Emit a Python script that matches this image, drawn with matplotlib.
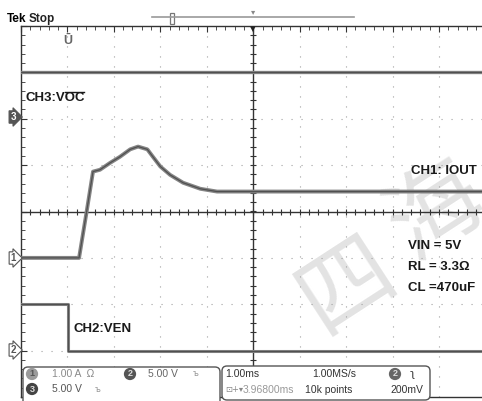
import numpy as np
import matplotlib
matplotlib.use("Agg")
import matplotlib.pyplot as plt
from matplotlib.patches import FancyBboxPatch
from matplotlib.ticker import MultipleLocator

# scope settings (1 ms/div horizontally, screen is 10 x 8 divisions)
t_div = 1.0            # ms per division
ch1_scale, ch1_pos = 1.0, -1.0   # A/div, marker position in div
ch2_scale, ch2_pos = 5.0, -3.0   # V/div
ch3_scale, ch3_pos = 5.0, 2.0    # V/div

# CH1: IOUT (A)
ch1_t = [-5.0, -3.75, -3.58, -3.45, -3.30, -3.08, -2.87, -2.65, -2.48, -2.28,
         -2.16, -2.00, -1.79, -1.51, -1.14, -0.78, -0.28, 5.0]
ch1_a = [0.0, 0.0, 1.04, 1.86, 1.90, 2.05, 2.18, 2.34, 2.40, 2.34,
         2.18, 1.97, 1.79, 1.62, 1.49, 1.43, 1.43, 1.43]

# CH2: VEN (V)
ch2_t = [-5.0, -3.99, -3.99, 5.0]
ch2_v = [5.0, 5.0, 0.0, 0.0]

# CH3: /VOC (V)
ch3_t = [-5.0, 5.0]
ch3_v = [5.0, 5.0]

W, H = 482, 401
fig = plt.figure(figsize=(W / 100, H / 100), dpi=100, facecolor="white")
sans = ["Liberation Sans", "DejaVu Sans"]

# back layer for the watermark (pixel coordinates)
back = fig.add_axes([0, 0, 1, 1], zorder=0)
back.set_xlim(0, W)
back.set_ylim(H, 0)
back.axis("off")
for ch, (x, y) in zip("四海", [(347, 285), (436, 212)]):
    back.text(x, y, ch, fontsize=68, color="#e3e3e3", rotation=33,
              ha="center", va="center", family=["Noto Sans CJK SC"])

# graticule
ax = fig.add_axes([21 / W, 4 / H, 464.5 / W, 371 / H], zorder=1)
ax.set_facecolor("none")
ax.set_xlim(-5, 5)
ax.set_ylim(-4, 4)
for s in ["left", "top", "bottom"]:
    ax.spines[s].set_color("#333333")
    ax.spines[s].set_linewidth(1.0)
ax.spines["right"].set_visible(False)
ax.xaxis.set_ticks_position("top")
ax.xaxis.set_major_locator(MultipleLocator(1))
ax.xaxis.set_minor_locator(MultipleLocator(0.2))
ax.yaxis.set_major_locator(MultipleLocator(1))
ax.yaxis.set_minor_locator(MultipleLocator(0.2))
ax.tick_params(which="both", direction="in", color="#333333",
               labeltop=False, labelleft=False, labelbottom=False)
ax.tick_params(which="major", length=4)
ax.tick_params(which="minor", length=3)

for k in range(-4, 5):
    if k != 0:
        ax.axvline(k, color="#a0a0a0", lw=0.8, ls=(0, (1, 8)), zorder=1)
for k in range(-3, 4):
    if k != 0:
        ax.axhline(k, color="#a0a0a0", lw=0.8, ls=(0, (1, 8)), zorder=1)
ax.axhline(0, color="#333333", lw=1.0, zorder=2)
ax.axvline(0, color="#333333", lw=1.0, zorder=2)
tk = np.arange(-5, 5.01, 0.2)
ax.plot(tk, np.zeros_like(tk), ls="none", marker="|", ms=5, mew=0.8,
        color="#333333", zorder=2)
tk = np.arange(-4, 4.01, 0.2)
ax.plot(np.zeros_like(tk), tk, ls="none", marker="_", ms=5, mew=0.8,
        color="#333333", zorder=2)

# traces
traces = [
    (ch3_t, np.array(ch3_v) / ch3_scale + ch3_pos, 2.4),
    (ch1_t, np.array(ch1_a) / ch1_scale + ch1_pos, 2.8),
    (ch2_t, np.array(ch2_v) / ch2_scale + ch2_pos, 2.2),
]
for t, y, lw in traces:
    ax.plot(np.array(t) / t_div, y, color="#858585", lw=lw, zorder=3,
            solid_joinstyle="round")
    ax.plot(np.array(t) / t_div, y, color="#505050", lw=0.9, zorder=4)

# front layer: labels and readouts (pixel coordinates)
ov = fig.add_axes([0, 0, 1, 1], zorder=2)
ov.set_xlim(0, W)
ov.set_ylim(H, 0)
ov.axis("off")

ov.text(7, 22, "Tek", fontsize=8.5, weight="bold", family=sans, va="baseline")
ov.text(29, 22, "Stop", fontsize=8.5, weight="bold", family=sans, va="baseline",
        color="#222222")
ov.plot([152, 354], [17, 17], color="#999999", lw=1.2)
ov.add_patch(FancyBboxPatch((170, 13), 4, 11, boxstyle="square,pad=0",
                            fc="white", ec="#777777", lw=0.9))
ov.text(253, 12, "▾", fontsize=6, color="#888888", ha="center", va="center")
ov.text(253, 29, "▾", fontsize=8, color="#222222", ha="center", va="center")
ov.text(68, 41, "Ū", fontsize=9, color="#666666", ha="center", va="center",
        family=sans, weight="bold")

# channel ground markers
for lab, y, fc, tc in [("3", 117, "#555555", "white"), ("1", 258, "white", "#555555"),
                       ("2", 350, "white", "#555555")]:
    ov.text(13, y, lab, fontsize=7, color=tc, ha="center", va="center",
            family=sans, weight="bold",
            bbox=dict(boxstyle="rarrow,pad=0.12", fc=fc, ec="#555555", lw=0.8))

lab_kw = dict(fontsize=9.5, weight="bold", family=sans, color="#1a1a1a",
              va="baseline")
voc = ov.text(25, 101, "CH3:VOC", **lab_kw)
pre = ov.text(25, 101, "CH3:V", alpha=0, **lab_kw)
ov.text(411, 174, "CH1: IOUT", **lab_kw)
ov.text(408, 249, "VIN = 5V", **lab_kw)
ov.text(408, 270, "RL = 3.3Ω", **lab_kw)
ov.text(408, 291, "CL =470uF", **lab_kw)
ov.text(73, 332, "CH2:VEN", **lab_kw)

# overline on "OC"
fig.canvas.draw()
r = fig.canvas.get_renderer()
inv = ov.transData.inverted()
b_all = voc.get_window_extent(r)
b_pre = pre.get_window_extent(r)
x0 = inv.transform((b_pre.x1, b_all.y1))[0]
x1, ytop = inv.transform((b_all.x1, b_all.y1))
ov.plot([x0 + 0.5, x1 - 0.5], [ytop - 0.5, ytop - 0.5], color="#1a1a1a", lw=1.0)

# readout boxes
ov.add_patch(FancyBboxPatch((23, 367), 197, 40, boxstyle="round,pad=0,rounding_size=5",
                            fc="white", ec="#555555", lw=1.0))
ov.add_patch(FancyBboxPatch((222, 366), 208, 34, boxstyle="round,pad=0,rounding_size=5",
                            fc="white", ec="#555555", lw=1.0))

rd = dict(fontsize=7.5, family=sans, va="center")
def badge(x, y, n, fc, tc):
    ov.text(x, y, n, fontsize=6.5, color=tc, ha="center", va="center",
            family=sans, weight="bold",
            bbox=dict(boxstyle="circle,pad=0.18", fc=fc, ec="none"))

badge(32, 374, "1", "#9a9a9a", "#555555")
ov.text(52, 374, "1.00 A  Ω", color="#8a8a8a", **rd)
badge(130, 374, "2", "#555555", "#dddddd")
ov.text(148, 374, "5.00 V", color="#666666", **rd)
ov.text(196, 374, "ъ", color="#999999", fontsize=6, va="center", ha="center")
badge(32, 389, "3", "#444444", "#dddddd")
ov.text(52, 389, "5.00 V", color="#555555", **rd)
ov.text(98, 389, "ъ", color="#999999", fontsize=6, va="center", ha="center")

ov.text(225, 374, "1.00ms", color="#333333", **rd)
ov.text(312, 374, "1.00MS/s", color="#333333", **rd)
badge(395, 374, "2", "#666666", "#dddddd")
ov.text(412, 374, "ʅ", color="#333333", fontsize=8, va="center", ha="center")
ov.text(225, 390, "⊡+▾", color="#888888", fontsize=6, va="center")
ov.text(243, 390, "3.96800ms", color="#999999", **rd)
ov.text(305, 390, "10k points", color="#333333", **rd)
ov.text(390, 390, "200mV", color="#333333", **rd)

fig.savefig("out.png", dpi=100, facecolor="white")
